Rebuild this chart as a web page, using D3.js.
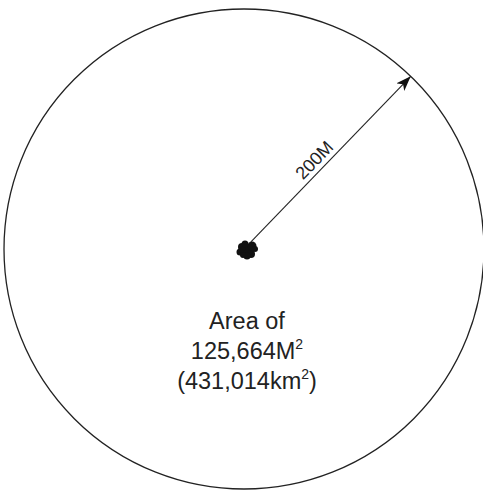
<!DOCTYPE html>
<html>
<head>
<meta charset="utf-8">
<script src="https://cdn.jsdelivr.net/npm/d3@7"></script>
<style>
  body { margin: 0; background: #fff; }
  svg { display: block; }
</style>
</head>
<body>
<div id="vis"></div>
<script>
// SVG dims
var width = 483;
var height = 490;

// Data values
var radiusMiles = [200];
var radiusLabels = ["200M"];
var areaLines = ["Area of", "125,664M", "(431,014km"];
var areaSups = ["", "2", "2"];
var areaTails = ["", "", ")"];
var arrowAngle = [46]; // degrees above horizontal

// blob bumps around the centre (offsets in px)
var blob = [[0, 0, 6], [-5, -3, 4], [5, -4, 4.5], [-7, 2, 3.5], [4, 4, 4], [0, 6, 3.5], [-2, -6, 3.5], [8, -1, 3], [-4, 5, 3]];

var cx = 244, cy = 249;

var rScale = d3.scaleLinear()
    .domain([0, 200])
    .range([0, 240]);

var svg = d3.select("#vis").append("svg")
    .attr("width", width)
    .attr("height", height);

svg.append("defs").append("marker")
    .attr("id", "head")
    .attr("viewBox", "0 0 15 11")
    .attr("refX", 15)
    .attr("refY", 5.5)
    .attr("markerWidth", 15)
    .attr("markerHeight", 11)
    .attr("markerUnits", "userSpaceOnUse")
    .attr("orient", "auto")
    .append("path")
    .attr("d", "M0,0 L15,5.5 L0,11 L4,5.5 Z")
    .attr("fill", "#111");

// the big circle
svg.selectAll("circle.range")
    .data(radiusMiles).enter()
    .append("circle")
    .attr("class", "range")
    .attr("cx", cx)
    .attr("cy", cy)
    .attr("r", function(d) { return rScale(d); })
    .attr("fill", "none")
    .attr("stroke", "#222")
    .attr("stroke-width", 1.3);

// centre blob
svg.selectAll("circle.blob")
    .data(blob).enter()
    .append("circle")
    .attr("class", "blob")
    .attr("cx", function(d) { return cx + 3 + d[0]; })
    .attr("cy", function(d) { return cy + 1 + d[1]; })
    .attr("r", function(d) { return d[2]; })
    .attr("fill", "#111");

// radius arrow
var a = arrowAngle[0] * Math.PI / 180;
svg.selectAll("line.radius")
    .data(radiusMiles).enter()
    .append("line")
    .attr("class", "radius")
    .attr("x1", cx + 10 * Math.cos(a))
    .attr("y1", cy - 10 * Math.sin(a))
    .attr("x2", function(d) { return cx + rScale(d) * Math.cos(a); })
    .attr("y2", function(d) { return cy - rScale(d) * Math.sin(a); })
    .attr("stroke", "#222")
    .attr("stroke-width", 1.1)
    .attr("marker-end", "url(#head)");

// radius label
svg.selectAll("text.rlabel")
    .data(radiusLabels).enter()
    .append("text")
    .attr("class", "rlabel")
    .attr("transform", function(d) {
        var m = rScale(radiusMiles[0]) * 0.47;
        var x = cx + m * Math.cos(a) - 5 * Math.sin(a);
        var y = cy - m * Math.sin(a) - 5 * Math.cos(a);
        return "translate(" + x + "," + y + ") rotate(" + (-arrowAngle[0]) + ")";
    })
    .attr("text-anchor", "middle")
    .style("font-family", "Liberation Sans, Arial, sans-serif")
    .style("font-size", "18px")
    .attr("fill", "#222")
    .text(function(d) { return d; });

// area text
var t = svg.selectAll("text.area")
    .data(areaLines).enter()
    .append("text")
    .attr("class", "area")
    .attr("x", 247)
    .attr("y", function(d, i) { return 329 + i * 30; })
    .attr("text-anchor", "middle")
    .style("font-family", "Liberation Sans, Arial, sans-serif")
    .style("font-size", "23.5px")
    .attr("fill", "#222");

t.append("tspan").text(function(d) { return d; });
t.append("tspan")
    .attr("dy", -10)
    .style("font-size", "14px")
    .text(function(d, i) { return areaSups[i]; });
t.append("tspan")
    .attr("dy", function(d, i) { return areaSups[i] ? 10 : 0; })
    .text(function(d, i) { return areaTails[i]; });
</script>
</body>
</html>
